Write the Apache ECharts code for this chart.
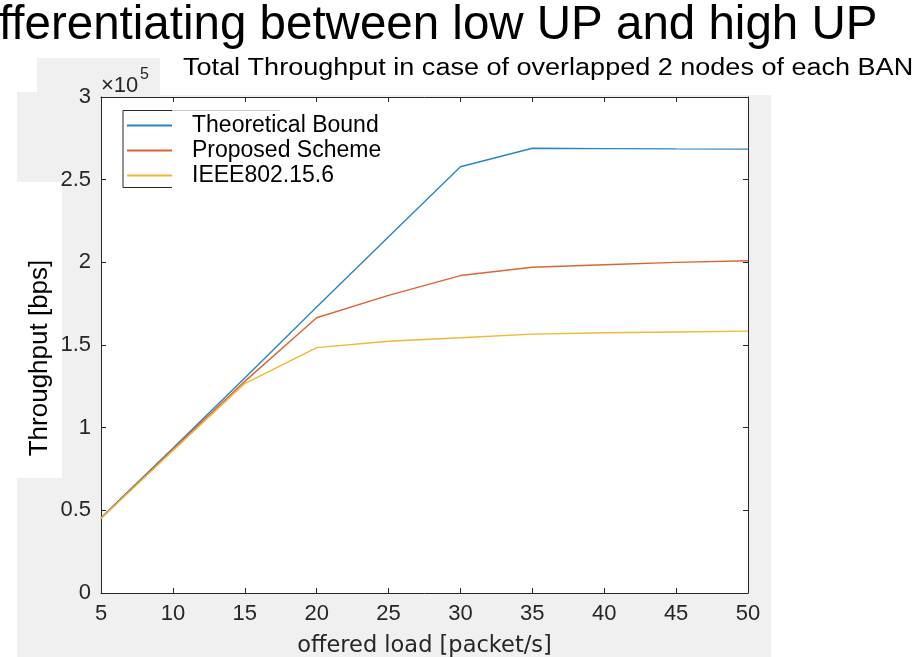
<!DOCTYPE html>
<html>
<head>
<meta charset="utf-8">
<script src="https://cdn.jsdelivr.net/npm/echarts@6/dist/echarts.min.js"></script>
<style>
html,body{margin:0;padding:0;background:#fff;}
#chart{width:915px;height:657px;}
</style>
</head>
<body>
<div id="chart"></div>
<script>
const offeredLoad = [5, 10, 15, 20, 25, 30, 35, 40, 45, 50];
const theoreticalBound = [45500, 87500, 130000, 173000, 215500, 257800, 269000, 268800, 268600, 268500];
const proposedScheme = [45000, 87000, 128000, 166500, 180000, 192000, 197000, 198500, 200000, 201000];
const ieee802156 = [45000, 86000, 126700, 148400, 152300, 154400, 156600, 157400, 157900, 158400];
const seriesNames = ['Theoretical Bound', 'Proposed Scheme', 'IEEE802.15.6'];
const seriesColors = ['#2a85c8', '#dc6432', '#efb835'];
const heading = 'fferentiating between low UP and high UP';
const chartTitle = 'Total Throughput in case of overlapped 2 nodes of each BAN';
const xName = 'offered load [packet/s]';
const yName = 'Throughput [bps]';
const exponentBase = '×10';
const exponentPower = '5';

const toPairs = arr => offeredLoad.map((x, i) => [x, arr[i]]);
const allData = [theoreticalBound, proposedScheme, ieee802156];

const axisColor = '#262626';
const tickFont = 'Liberation Sans';
const gray = '#f0f0f0';

const chart = echarts.init(document.getElementById('chart'), null, {renderer: 'canvas'});
const option = {
  backgroundColor: '#ffffff',
  animation: false,
  grid: {left: 101, top: 97, right: 167, bottom: 64, show: true, backgroundColor: '#ffffff', borderWidth: 0, z: 0,
    containLabel: false, outerBoundsMode: 'none'},
  legend: {
    show: true, orient: 'vertical', left: 127, top: 114, padding: 0,
    itemWidth: 45, itemHeight: 2, itemGap: 2, icon: 'rect',
    data: seriesNames,
    textStyle: {fontFamily: 'Liberation Sans', fontSize: 23, color: '#000', padding: [0, 0, 0, 15]},
    z: 20
  },
  xAxis: [{
    type: 'value', min: 5, max: 50, interval: 5, position: 'bottom',
    axisLine: {show: true, onZero: false, lineStyle: {color: axisColor, width: 1}},
    axisTick: {show: true, inside: true, length: 5, lineStyle: {color: axisColor}},
    axisLabel: {show: true, color: axisColor, fontFamily: tickFont, fontSize: 22, margin: 10},
    splitLine: {show: false},
    name: xName, nameLocation: 'middle', nameGap: 42,
    nameTextStyle: {color: axisColor, fontFamily: 'DejaVu Sans', fontSize: 22.5}
  }, {
    type: 'value', min: 5, max: 50, interval: 5, position: 'top',
    axisLine: {show: true, onZero: false, lineStyle: {color: axisColor, width: 1}},
    axisTick: {show: true, inside: true, length: 5, lineStyle: {color: axisColor}},
    axisLabel: {show: false}, splitLine: {show: false}
  }],
  yAxis: [{
    type: 'value', min: 0, max: 300000, interval: 50000, position: 'left',
    axisLine: {show: true, onZero: false, lineStyle: {color: axisColor, width: 1}},
    axisTick: {show: true, inside: true, length: 5, lineStyle: {color: axisColor}},
    axisLabel: {show: true, color: axisColor, fontFamily: tickFont, fontSize: 22, margin: 10,
      formatter: v => String(+(v / 1e5).toFixed(1))},
    splitLine: {show: false}
  }, {
    type: 'value', min: 0, max: 300000, interval: 50000, position: 'right',
    axisLine: {show: true, onZero: false, lineStyle: {color: axisColor, width: 1}},
    axisTick: {show: true, inside: true, length: 5, lineStyle: {color: axisColor}},
    axisLabel: {show: false}, splitLine: {show: false}
  }],
  series: seriesNames.map((n, i) => ({
    name: n, type: 'line', xAxisIndex: 0, yAxisIndex: 0,
    data: toPairs(allData[i]), showSymbol: false, symbol: 'none',
    lineStyle: {color: seriesColors[i], width: 1.4},
    itemStyle: {color: seriesColors[i]},
    z: 3
  })),
  graphic: [
    {type: 'text', left: -1, top: 2, z: -200, style: {text: heading, fontFamily: 'Liberation Sans', fontSize: 47.5, fill: '#000'}},
    {type: 'rect', shape: {x: 0, y: 50, width: 915, height: 45}, z: -150, style: {fill: '#fff'}},
    {type: 'rect', shape: {x: 17, y: 95, width: 754, height: 562}, z: -100, style: {fill: gray}},
    {type: 'rect', shape: {x: 37, y: 58, width: 123, height: 37}, z: -100, style: {fill: gray}},
    {type: 'rect', shape: {x: 17, y: 92, width: 20, height: 3}, z: -100, style: {fill: gray}},
    {type: 'rect', shape: {x: 17, y: 182, width: 45, height: 296}, z: -90, style: {fill: '#fff'}},
    {type: 'text', x: 40, y: 358, rotation: Math.PI / 2, z: 10,
      style: {text: yName, fontFamily: 'Liberation Sans', fontSize: 26, fill: '#000', align: 'center', verticalAlign: 'middle'}},
    {type: 'text', x: 183, y: 69, scaleX: 1.175, z: 10,
      style: {text: chartTitle, fontFamily: 'Liberation Sans', fontSize: 23, fill: '#000', align: 'left', verticalAlign: 'middle'}},
    {type: 'text', x: 101, y: 86, z: 10,
      style: {text: exponentBase, fontFamily: 'Liberation Sans', fontSize: 22, fill: axisColor, align: 'left', verticalAlign: 'middle'}},
    {type: 'text', x: 140, y: 75, z: 10,
      style: {text: exponentPower, fontFamily: 'Liberation Sans', fontSize: 16, fill: axisColor, align: 'left', verticalAlign: 'middle'}},
    {type: 'polyline', z: 20, shape: {points: [[172, 110.5], [123, 110.5], [123, 187.5], [172, 187.5]]}, style: {stroke: '#262626', lineWidth: 1, fill: null}},
    {type: 'line', z: 20, shape: {x1: 172, y1: 110.5, x2: 280, y2: 110.5}, style: {stroke: '#c8c8c8', lineWidth: 1}}
  ]
};
chart.setOption(option);
</script>
</body>
</html>
